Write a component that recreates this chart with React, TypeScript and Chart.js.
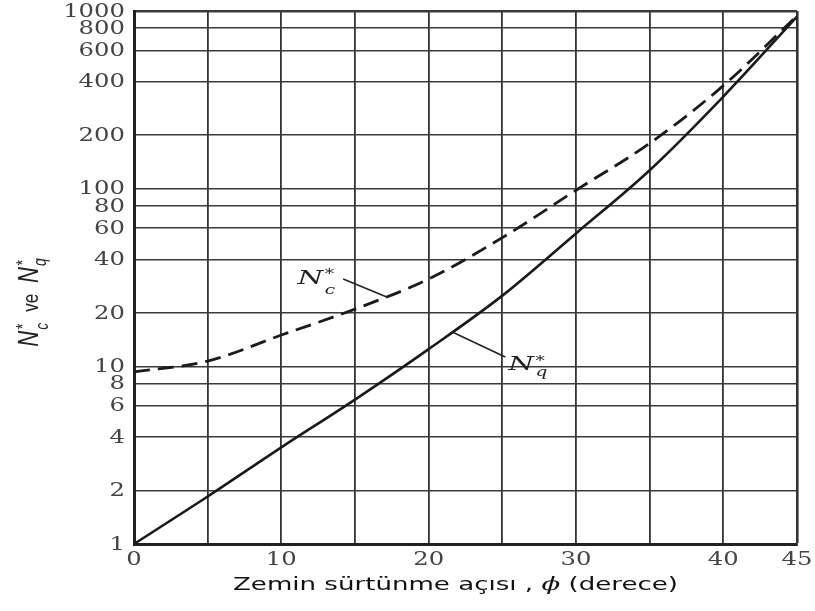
import React, { useEffect, useRef } from 'react';
import { Chart, registerables } from 'chart.js';

Chart.register(...registerables);

// ---- data ----
const phiDegrees = [0, 5, 10, 15, 20, 25, 30, 35, 40, 45];
const ncStar = [9.3, 10.7, 15, 21, 31, 53, 98, 180, 380, 940];
const nqStar = [1, 1.85, 3.5, 6.5, 12.5, 25, 56, 127, 330, 930];
const yTickValues = [1, 2, 4, 6, 8, 10, 20, 40, 60, 80, 100, 200, 400, 600, 800, 1000];
const xLabelledTicks = [0, 10, 20, 30, 40, 45];

// annotation anchors in data coordinates (phi, value)
const ncLabelAnchor = { phi: 11.1, value: 29 };
const ncLeader = [{ phi: 14.2, value: 31 }, { phi: 17.2, value: 24.5 }];
const nqLabelAnchor = { phi: 25.4, value: 9.5 };
const nqLeader = [{ phi: 21.6, value: 15.6 }, { phi: 25.2, value: 11.3 }];

const xTitleParts = ['Zemin sürtünme açısı , ', 'ϕ', ' (derece)'];

type Pt = { phi: number; value: number };

function nSymbolWidth(ctx: CanvasRenderingContext2D, size: number, family: string, sub: string) {
  ctx.font = `italic ${size}px ${family}`;
  const w = ctx.measureText('N').width;
  ctx.font = `italic ${Math.round(size * 0.62)}px ${family}`;
  const s = Math.max(ctx.measureText('*').width, ctx.measureText(sub).width);
  return w + 1 + s;
}

function drawNSymbol(ctx: CanvasRenderingContext2D, x: number, y: number, sub: string, size: number, family: string, subDrop: number) {
  ctx.textAlign = 'left';
  ctx.textBaseline = 'alphabetic';
  ctx.font = `italic ${size}px ${family}`;
  ctx.fillText('N', x, y);
  const w = ctx.measureText('N').width;
  const small = Math.round(size * 0.62);
  ctx.font = `italic ${small}px ${family}`;
  ctx.fillText('*', x + w + 1, y - size * 0.3);
  ctx.fillText(sub, x + w + 1, y + size * subDrop);
}

const overlayPlugin = {
  id: 'overlay',
  afterDraw(chart: any) {
    const ctx: CanvasRenderingContext2D = chart.ctx;
    const xs = chart.scales.x;
    const ys = chart.scales.y;
    const area = chart.chartArea;
    const px = (p: Pt) => xs.getPixelForValue(p.phi);
    const py = (p: Pt) => ys.getPixelForValue(p.value);

    ctx.save();
    // ---- tick labels (wide serif digits) ----
    ctx.fillStyle = '#444';
    ctx.font = '18px "DejaVu Serif"';
    const sx = 1.35;
    for (const v of yTickValues) {
      ctx.save();
      ctx.translate(area.left - 9, ys.getPixelForValue(v));
      ctx.scale(sx, 1);
      ctx.textAlign = 'right';
      ctx.textBaseline = 'middle';
      ctx.fillText(String(v), 0, 1);
      ctx.restore();
    }
    for (const v of xLabelledTicks) {
      ctx.save();
      ctx.translate(xs.getPixelForValue(v), area.bottom + 16);
      ctx.scale(sx, 1);
      ctx.textAlign = 'center';
      ctx.textBaseline = 'middle';
      ctx.fillText(String(v), 0, 0);
      ctx.restore();
    }

    // ---- leader lines ----
    ctx.strokeStyle = '#222';
    ctx.lineWidth = 1.6;
    for (const seg of [ncLeader, nqLeader]) {
      ctx.beginPath();
      ctx.moveTo(px(seg[0]), py(seg[0]));
      ctx.lineTo(px(seg[1]), py(seg[1]));
      ctx.stroke();
    }

    // ---- curve labels ----
    ctx.fillStyle = '#222';
    const serif = '"DejaVu Serif"';
    ctx.save();
    ctx.translate(px(ncLabelAnchor), py(ncLabelAnchor));
    ctx.scale(1.55, 1);
    drawNSymbol(ctx, 0, 0, 'c', 19, serif, 0.5);
    ctx.restore();
    ctx.save();
    ctx.translate(px(nqLabelAnchor), py(nqLabelAnchor));
    ctx.scale(1.55, 1);
    drawNSymbol(ctx, 0, 0, 'q', 19, serif, 0.3);
    ctx.restore();

    // ---- y axis title (rotated) ----
    ctx.fillStyle = '#222';
    const sans = '"Liberation Sans"';
    const nSize = 22;
    const gap = 11;
    const w1 = nSymbolWidth(ctx, nSize, sans, 'c');
    ctx.font = `17px ${sans}`;
    const wVe = ctx.measureText('ve').width;
    const w2 = nSymbolWidth(ctx, nSize, sans, 'q');
    const total = w1 + gap + wVe + gap + w2;
    ctx.save();
    ctx.translate(30, (area.top + area.bottom) / 2 + 25);
    ctx.scale(1.3, 1);
    ctx.rotate(-Math.PI / 2);
    let cx = -total / 2;
    const base = 6;
    drawNSymbol(ctx, cx, base, 'c', nSize, sans, 0.35);
    cx += w1 + gap;
    ctx.font = `17px ${sans}`;
    ctx.textAlign = 'left';
    ctx.textBaseline = 'alphabetic';
    ctx.fillText('ve', cx, base);
    cx += wVe + gap;
    drawNSymbol(ctx, cx, base, 'q', nSize, sans, 0.3);
    ctx.restore();

    // ---- x axis title ----
    ctx.fillStyle = '#111';
    const fonts = ['18px "DejaVu Sans"', 'italic 19px "DejaVu Serif"', '18px "DejaVu Sans"'];
    const widths = xTitleParts.map((t, i) => {
      ctx.font = fonts[i];
      return ctx.measureText(t).width;
    });
    const tw = widths.reduce((a, b) => a + b, 0);
    const tsx = 445 / tw;
    ctx.save();
    ctx.translate((area.left + area.right) / 2 - 10, area.bottom + 46);
    ctx.scale(tsx, 1);
    let tx = -tw / 2;
    ctx.textAlign = 'left';
    ctx.textBaseline = 'alphabetic';
    xTitleParts.forEach((t, i) => {
      ctx.font = fonts[i];
      ctx.fillText(t, tx, 0);
      tx += widths[i];
    });
    ctx.restore();

    ctx.restore();
  },
};

export default function App() {
  const ref = useRef<HTMLCanvasElement>(null);
  useEffect(() => {
    const canvas = ref.current;
    if (!canvas) return;
    const chart = new Chart(canvas, {
      type: 'line',
      data: {
        datasets: [
          {
            label: 'Nc*',
            data: phiDegrees.map((p, i) => ({ x: p, y: ncStar[i] })),
            borderColor: '#1a1a1a',
            borderWidth: 2.8,
            borderDash: [16, 8],
            pointRadius: 0,
            cubicInterpolationMode: 'monotone',
            fill: false,
          },
          {
            label: 'Nq*',
            data: phiDegrees.map((p, i) => ({ x: p, y: nqStar[i] })),
            borderColor: '#1a1a1a',
            borderWidth: 2.6,
            pointRadius: 0,
            cubicInterpolationMode: 'monotone',
            fill: false,
          },
        ],
      },
      options: {
        animation: false,
        responsive: false,
        events: [],
        layout: { padding: { top: 11, right: 18, bottom: 0, left: 0 } },
        plugins: { legend: { display: false }, tooltip: { enabled: false } },
        scales: {
          x: {
            type: 'linear',
            min: 0,
            max: 45,
            ticks: { stepSize: 5, display: false },
            grid: {
              color: '#333',
              lineWidth: (c: any) => (c.tick && c.tick.value === 45 ? 2.6 : 1.8),
              drawTicks: false,
            },
            border: { color: '#222', width: 3 },
            afterFit: (s: any) => {
              s.height = 67;
              s.paddingLeft = 0;
              s.paddingRight = 0;
              s.paddingTop = 0;
              s.paddingBottom = 0;
            },
          },
          y: {
            type: 'logarithmic',
            min: 1,
            max: 1000,
            afterBuildTicks: (s: any) => {
              s.ticks = yTickValues.map((v) => ({ value: v }));
            },
            ticks: { display: false, autoSkip: false },
            grid: {
              color: '#3a3a3a',
              lineWidth: (c: any) => (c.tick && c.tick.value === 1000 ? 2.6 : 1.5),
              drawTicks: false,
            },
            border: { color: '#222', width: 3 },
            afterFit: (s: any) => {
              s.width = 134;
              s.paddingLeft = 0;
              s.paddingRight = 0;
              s.paddingTop = 0;
              s.paddingBottom = 0;
            },
          },
        },
      },
      plugins: [overlayPlugin],
    } as any);
    return () => chart.destroy();
  }, []);
  return (
    <div style={{ position: 'absolute', left: 0, top: 0, width: 815, height: 611, background: '#fff' }}>
      <canvas ref={ref} width={815} height={611} style={{ display: 'block', width: 815, height: 611 }} />
    </div>
  );
}
